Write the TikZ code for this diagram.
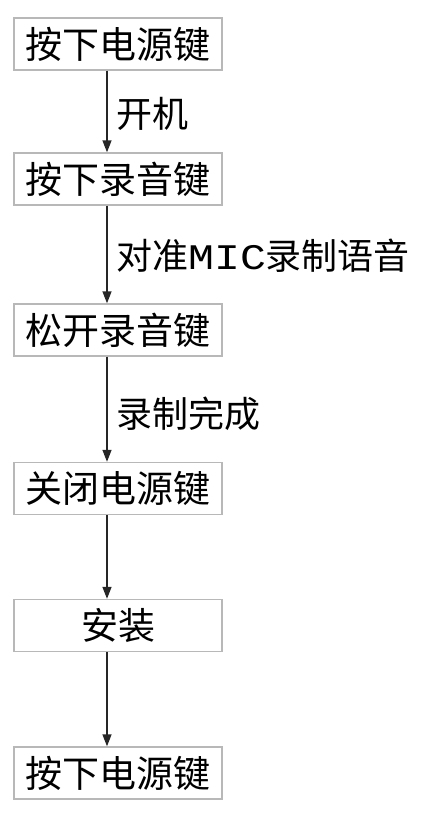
\documentclass[tikz,border=0pt]{standalone}
\usepackage{fontspec}
\usepackage{graphicx}
\setmainfont{Noto Sans CJK SC}
\newfontfamily\latinmono{Liberation Mono}
\usetikzlibrary{arrows.meta}
\tikzset{
  stepbox/.style={draw=black!28, line width=1.4pt, fill=white, minimum width=208pt, minimum height=52pt, inner sep=0pt, font=\fontsize{37}{37}\selectfont},
  flow/.style={draw=black!85, line width=1.5pt, -{Triangle[length=12pt,width=9pt]}},
  lbl/.style={anchor=west, inner sep=0pt, font=\fontsize{36}{36}\selectfont}
}
\begin{document}
\begin{tikzpicture}[x=1pt,y=-1pt]
\useasboundingbox (0,0) rectangle (423,814);
\node[stepbox] (b1) at (118,44) {按下电源键};
\node[stepbox] (b2) at (118,179) {按下录音键};
\node[stepbox] (b3) at (118,330) {松开录音键};
\node[stepbox] (b4) at (118,488.5) {关闭电源键};
\node[stepbox] (b5) at (118,625.5) {安装};
\node[stepbox] (b6) at (118,773) {按下电源键};
\draw[flow] (b1.south -| 107,0) -- (b2.north -| 107,0);
\draw[flow] (b2.south -| 107,0) -- (b3.north -| 107,0);
\draw[flow] (b3.south -| 107,0) -- (b4.north -| 107,0);
\draw[flow] (b4.south -| 107,0) -- (b5.north -| 107,0);
\draw[flow] (b5.south -| 107,0) -- (b6.north -| 107,0);
\node[lbl] (l1) at (116,114) {开机};
\node[lbl] (l2) at (116,256) {对准{\latinmono\scalebox{1.2}[1]{MIC}}录制语音};
\node[lbl] (l3) at (116,414) {录制完成};
\end{tikzpicture}
\end{document}
